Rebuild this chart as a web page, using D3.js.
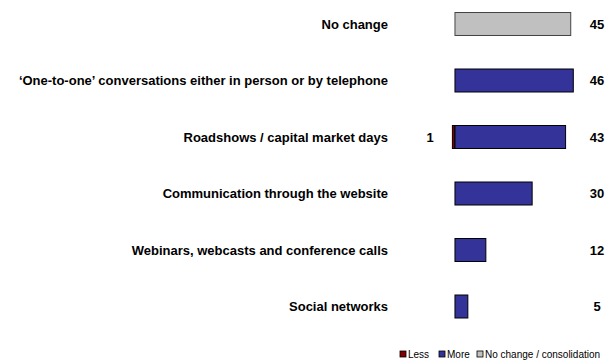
<!DOCTYPE html>
<html>
<head>
<meta charset="utf-8">
<script src="https://cdn.jsdelivr.net/npm/d3@7/dist/d3.min.js"></script>
<style>
  html, body { margin: 0; padding: 0; background: #fff; }
  svg { display: block; }
  text { font-family: Arial, "Liberation Sans", Helvetica, sans-serif; }
</style>
</head>
<body>
<svg id="chart" width="610" height="360"></svg>
<script>
// Survey categories, top to bottom
const categories = [
  "No change",
  "\u2018One-to-one\u2019 conversations either in person or by telephone",
  "Roadshows / capital market days",
  "Communication through the website",
  "Webinars, webcasts and conference calls",
  "Social networks"
];
// Share of answers (%) per category
const lessValues     = [0, 0, 1, 0, 0, 0];
const moreValues     = [0, 46, 43, 30, 12, 5];
const noChangeValues = [45, 0, 0, 0, 0, 0];

const legendLabels = ["Less", "More", "No change / consolidation"];
const colors = { less: "#800000", more: "#333399", noChange: "#c0c0c0" };

const svg = d3.select("#chart");

const x = d3.scaleLinear().domain([-1, 46]).range([452.4, 573.3]);
const y = d3.scaleBand().domain(categories).range([12.5, 318]).paddingInner(0.593).paddingOuter(0);

const rows = categories.map((c, i) => ({
  cat: c, less: lessValues[i], more: moreValues[i], noChange: noChangeValues[i]
}));

// Category labels
svg.append("g").selectAll("text").data(rows).join("text")
  .attr("x", 388)
  .attr("y", d => y(d.cat) + y.bandwidth() / 2)
  .attr("dy", "0.35em")
  .attr("text-anchor", "end")
  .attr("font-size", 13)
  .attr("font-weight", "bold")
  .attr("fill", "#000")
  .text(d => d.cat);

const bars = svg.append("g");

// "Less" bars extend left of zero
bars.selectAll("rect.less").data(rows.filter(d => d.less > 0)).join("rect")
  .attr("class", "less")
  .attr("x", d => x(-d.less))
  .attr("y", d => y(d.cat))
  .attr("width", d => x(0) - x(-d.less))
  .attr("height", y.bandwidth())
  .attr("fill", colors.less)
  .attr("stroke", "#000").attr("stroke-width", 1);

// "More" bars extend right of zero
bars.selectAll("rect.more").data(rows.filter(d => d.more > 0)).join("rect")
  .attr("class", "more")
  .attr("x", x(0))
  .attr("y", d => y(d.cat))
  .attr("width", d => x(d.more) - x(0))
  .attr("height", y.bandwidth())
  .attr("fill", colors.more)
  .attr("stroke", "#000").attr("stroke-width", 1);

// "No change" bars
bars.selectAll("rect.nc").data(rows.filter(d => d.noChange > 0)).join("rect")
  .attr("class", "nc")
  .attr("x", x(0))
  .attr("y", d => y(d.cat))
  .attr("width", d => x(d.noChange) - x(0))
  .attr("height", y.bandwidth())
  .attr("fill", colors.noChange)
  .attr("stroke", "#444").attr("stroke-width", 1);

// Value labels on the right (more / no change)
svg.append("g").selectAll("text").data(rows).join("text")
  .attr("x", 597)
  .attr("y", d => y(d.cat) + y.bandwidth() / 2)
  .attr("dy", "0.35em")
  .attr("text-anchor", "middle")
  .attr("font-size", 13)
  .attr("font-weight", "bold")
  .text(d => d.more + d.noChange);

// Value labels on the left (less)
svg.append("g").selectAll("text").data(rows.filter(d => d.less > 0)).join("text")
  .attr("x", 430)
  .attr("y", d => y(d.cat) + y.bandwidth() / 2)
  .attr("dy", "0.35em")
  .attr("text-anchor", "middle")
  .attr("font-size", 13)
  .attr("font-weight", "bold")
  .text(d => d.less);

// Legend
const legendColors = [colors.less, colors.more, colors.noChange];
const legendX = [400, 439, 477];
const legend = svg.append("g");
legendLabels.forEach((t, i) => {
  legend.append("rect")
    .attr("x", legendX[i]).attr("y", 351)
    .attr("width", 6).attr("height", 6)
    .attr("fill", legendColors[i])
    .attr("stroke", "#000").attr("stroke-width", 0.8);
  legend.append("text")
    .attr("x", legendX[i] + 8).attr("y", 357.5)
    .attr("font-size", 10)
    .attr("fill", "#000")
    .text(t);
});
</script>
</body>
</html>
